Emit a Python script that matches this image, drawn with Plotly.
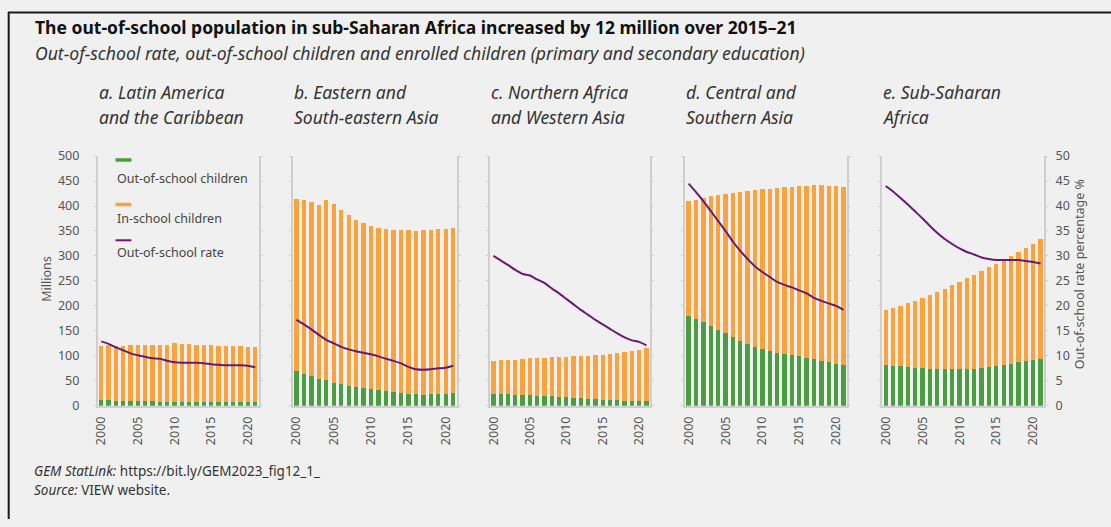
import plotly.graph_objects as go

years = list(range(2000, 2022))
tick_years = [2000, 2005, 2010, 2015, 2020]
tick_labels = ["2000", "2005", "2010", "2015", "2020"]

panel_title_line1 = ["a. Latin America", "b. Eastern and", "c. Northern Africa", "d. Central and", "e. Sub-Saharan"]
panel_title_line2 = ["and the Caribbean", "South-eastern Asia", "and Western Asia", "Southern Asia", "Africa"]

# Out-of-school children (millions)
oos_a = [11.6, 11, 10.5, 10, 9.7, 9.4, 9, 8.7, 8.4, 8.2, 8, 7.9, 7.8, 7.7, 7.6, 7.4, 7.1, 7, 6.9, 6.8, 6.7, 6.6]
oos_b = [69, 64, 59, 54, 51, 46, 43, 40, 38, 36, 34, 32, 30, 28, 26.5, 24.5, 22.6, 22, 23, 23, 23, 25]
oos_c = [24, 23, 22.6, 22, 21.3, 21.3, 20, 19.4, 18.7, 18, 17.4, 16, 15.5, 14.2, 13.5, 12.3, 11.6, 11.6, 10.3, 10.3, 10.3, 10.3]
oos_d = [180.6, 174, 167, 159, 152, 145, 137, 130, 124, 118, 113, 110, 106, 104, 101, 99, 96, 93.5, 90, 87, 84.5, 82]
oos_e = [82, 80, 78.7, 77.4, 76, 75, 74, 73.5, 73, 73, 73, 73, 74, 75.5, 77.4, 79.4, 82, 84.5, 87, 89, 91, 93.5]

# In-school children (millions)
ins_a = [108, 110, 110, 109, 112, 112, 112, 113, 114, 113, 117, 116, 115, 115, 114, 114, 113, 113, 112, 112, 111, 111]
ins_b = [346, 348, 349, 349, 361, 359, 349, 342, 335, 330, 327, 325, 325, 325, 325.5, 326.5, 326.4, 329, 330, 331, 332, 332]
ins_c = [66.3, 68, 69.4, 70, 72.2, 73.7, 76, 76.6, 78.3, 79.4, 80.6, 83, 84.5, 86.4, 87.5, 89.7, 91.4, 93.4, 96.7, 99.7, 101.7, 105.2]
ins_d = [229.4, 239, 249, 261, 270, 279.5, 289.5, 298, 306, 314, 320.5, 325, 330, 334, 338, 341, 345, 348.5, 352, 354, 356.1, 357]
ins_e = [109.6, 115.5, 121.9, 128.6, 134, 141, 148, 154.5, 161, 168, 175, 182, 188, 193.5, 199.6, 204.6, 210, 215.5, 221, 227, 233.5, 239.5]

# Out-of-school rate (%)
rate_a = [12.9, 12.4, 11.7, 11.1, 10.5, 10.1, 9.8, 9.5, 9.4, 9.0, 8.7, 8.6, 8.6, 8.6, 8.5, 8.3, 8.2, 8.1, 8.1, 8.1, 8.0, 7.7]
rate_b = [17.2, 16.3, 15.3, 14.2, 13.2, 12.5, 11.8, 11.3, 10.9, 10.6, 10.3, 9.9, 9.4, 9.0, 8.5, 7.8, 7.3, 7.2, 7.3, 7.5, 7.6, 8.0]
rate_c = [30.0, 29.1, 28.2, 27.2, 26.4, 26.1, 25.3, 24.6, 23.5, 22.5, 21.4, 20.3, 19.2, 18.2, 17.2, 16.3, 15.4, 14.5, 13.7, 13.1, 12.8, 12.1]
rate_d = [44.5, 42.8, 41.0, 39.0, 37.0, 35.0, 32.9, 31.0, 29.4, 27.9, 26.8, 25.8, 24.8, 24.2, 23.7, 23.1, 22.5, 21.6, 21.0, 20.5, 20.0, 19.2]
rate_e = [44.0, 42.9, 41.6, 40.3, 38.9, 37.5, 36.0, 34.6, 33.4, 32.4, 31.5, 30.8, 30.3, 29.7, 29.4, 29.2, 29.2, 29.2, 29.2, 29.0, 28.8, 28.5]

oos_all = [oos_a, oos_b, oos_c, oos_d, oos_e]
ins_all = [ins_a, ins_b, ins_c, ins_d, ins_e]
rate_all = [rate_a, rate_b, rate_c, rate_d, rate_e]

GREEN = "#4c9c44"
ORANGE = "#fba23d"
PURPLE = "#661a73"
BG = "#f0f0f0"
AXIS = "#cfcfcf"
TXT = "#555555"
FONT = "Noto Sans"

W, H = 1111, 527
def px(x):
    return x / W
def py(y):
    return 1 - y / H

panel_px = [(93, 255), (289, 454), (487, 648), (683, 846), (881, 1044)]
ydom = [py(410), py(152)]

fig = go.Figure()
layout = dict(
    width=W, height=H,
    paper_bgcolor=BG, plot_bgcolor=BG,
    margin=dict(l=0, r=0, t=0, b=0),
    barmode="stack", bargap=0.42,
    showlegend=False,
    font=dict(family=FONT, color=TXT),
)

for i in range(5):
    n = i + 1
    xa = "x" if n == 1 else f"x{n}"
    ya = "y" if n == 1 else f"y{n}"
    ya2 = f"y{n + 5}"
    fig.add_trace(go.Bar(x=years, y=oos_all[i], marker=dict(color=GREEN, line=dict(width=0)),
                         name="Out-of-school children", xaxis=xa, yaxis=ya))
    fig.add_trace(go.Bar(x=years, y=ins_all[i], marker=dict(color=ORANGE, line=dict(width=0)),
                         name="In-school children", xaxis=xa, yaxis=ya))
    fig.add_trace(go.Scatter(x=years, y=rate_all[i], mode="lines",
                             line=dict(color=PURPLE, width=2, shape="spline", smoothing=0.6),
                             name="Out-of-school rate", xaxis=xa, yaxis=ya2))
    x0, x1 = panel_px[i]
    layout["xaxis" if n == 1 else f"xaxis{n}"] = dict(
        domain=[px(x0), px(x1)], range=[1999.5, 2021.5], anchor=ya,
        tickmode="array", tickvals=tick_years, ticktext=tick_labels, tickangle=-90,
        showline=True, linecolor=AXIS, linewidth=1.5, showgrid=False, zeroline=False,
        ticks="", ticklabelstandoff=4, tickfont=dict(size=12.5, color=TXT, family=FONT),
    )
    layout["yaxis" if n == 1 else f"yaxis{n}"] = dict(
        domain=ydom, range=[0, 500], anchor=xa, dtick=50, tick0=0,
        showline=True, linecolor=AXIS, linewidth=1.5, showgrid=False, zeroline=False,
        ticks="outside", ticklen=2, tickcolor=AXIS, showticklabels=(n == 1),
        ticklabelstandoff=12, tickfont=dict(size=12.5, color=TXT, family=FONT),
    )
    layout[f"yaxis{n + 5}"] = dict(
        overlaying=ya, side="right", range=[0, 50], anchor=xa, dtick=5, tick0=0,
        showline=True, linecolor=AXIS, linewidth=1.5, showgrid=False, zeroline=False,
        ticks="outside", ticklen=2, tickcolor=AXIS, showticklabels=(n == 5),
        ticklabelstandoff=5, tickfont=dict(size=12.5, color=TXT, family=FONT),
    )

annotations = []
annotations.append(dict(
    x=px(28), y=py(19), xref="paper", yref="paper", xanchor="left", yanchor="middle",
    text="<b>The out-of-school population in sub-Saharan Africa increased by 12 million over 2015\u201321</b>",
    showarrow=False, font=dict(size=17.5, color="#111111", family=FONT)))
annotations.append(dict(
    x=px(28), y=py(45), xref="paper", yref="paper", xanchor="left", yanchor="middle",
    text="<i>Out-of-school rate, out-of-school children and enrolled children (primary and secondary education)</i>",
    showarrow=False, font=dict(size=17.6, color="#333333", family=FONT)))
for i in range(5):
    for t, yy in ((panel_title_line1[i], 86), (panel_title_line2[i], 112)):
        annotations.append(dict(
            x=px(panel_px[i][0] - 1), y=py(yy), xref="paper", yref="paper", xanchor="left", yanchor="middle",
            text=f"<i>{t}</i>", align="left", showarrow=False,
            font=dict(size=17.5, color="#333333", family=FONT)))

# legend (custom: swatch above label)
legend_items = [("Out-of-school children", GREEN, 156, 175, 3.5),
                ("In-school children", ORANGE, 202, 216, 3.5),
                ("Out-of-school rate", PURPLE, 239, 252, 2)]
shapes = []
for label, col, ys, yt, lw in legend_items:
    shapes.append(dict(type="line", xref="paper", yref="paper", x0=px(111), x1=px(127),
                       y0=py(ys), y1=py(ys), line=dict(color=col, width=lw)))
    annotations.append(dict(
        x=px(110), y=py(yt), xref="paper", yref="paper", xanchor="left", yanchor="middle",
        text=label, showarrow=False, font=dict(size=12.5, color="#444444", family=FONT)))

annotations.append(dict(
    x=px(41), y=py(279), xref="paper", yref="paper", xanchor="center", yanchor="middle",
    text="Millions", textangle=-90, showarrow=False, font=dict(size=12.5, color=TXT, family=FONT)))
annotations.append(dict(
    x=px(1079), y=py(274), xref="paper", yref="paper", xanchor="center", yanchor="middle",
    text="Out-of-school rate percentage %", textangle=-90, showarrow=False,
    font=dict(size=12.5, color=TXT, family=FONT)))
annotations.append(dict(
    x=px(27), y=py(477), xref="paper", yref="paper", xanchor="left", yanchor="middle",
    text="<i>GEM StatLink:</i> https://bit.ly/GEM2023_fig12_1_", showarrow=False,
    font=dict(size=13.5, color="#333333", family=FONT)))
annotations.append(dict(
    x=px(27), y=py(497), xref="paper", yref="paper", xanchor="left", yanchor="middle",
    text="<i>Source:</i> VIEW website.", showarrow=False,
    font=dict(size=13.5, color="#333333", family=FONT)))

# frame lines (top and left)
shapes.append(dict(type="line", xref="paper", yref="paper", x0=px(3), x1=1, y0=py(3.7), y1=py(3.7),
                   line=dict(color="#1a1a1a", width=2)))
shapes.append(dict(type="line", xref="paper", yref="paper", x0=px(3.7), x1=px(3.7), y0=0, y1=py(3),
                   line=dict(color="#1a1a1a", width=2)))

layout["annotations"] = annotations
layout["shapes"] = shapes
fig.update_layout(**layout)
fig.write_html("out.html", config={"displayModeBar": False},
               post_script="document.body.style.margin='0px';document.body.style.overflow='hidden';")
